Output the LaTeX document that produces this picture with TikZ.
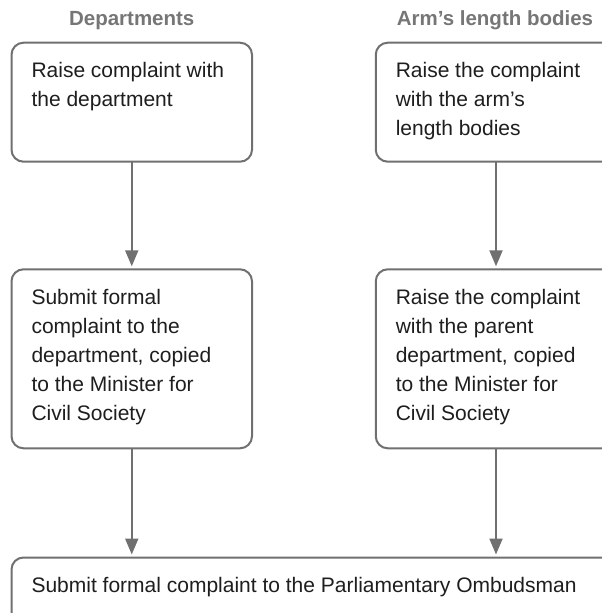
\documentclass[tikz,border=0pt]{standalone}
\usepackage{fontspec}
\setmainfont{Liberation Sans}
\usetikzlibrary{arrows.meta,positioning}
\definecolor{ink}{HTML}{1E1E1E}
\definecolor{rule}{HTML}{707070}
\definecolor{headgray}{HTML}{767676}
\newcommand{\boxtext}[3][200.5pt]{\parbox[c][#2][t]{#1}{\raggedright #3}}
\tikzset{
  every node/.style={font=\fontsize{21}{29}\selectfont, text=ink},
  head/.style={font=\fontsize{20.5}{24}\selectfont\bfseries, text=headgray},
  stepbox/.style={draw=rule, line width=2pt, rounded corners=12pt, outer sep=0pt,
                  inner xsep=20pt, inner ysep=20pt, minimum width=240.5pt, fill=white},
  arr/.style={-{Triangle[length=16pt, width=13pt]}, line width=2pt, draw=rule, shorten >=3pt},
}

\begin{document}
\begin{tikzpicture}[x=1pt, y=-1pt]
\useasboundingbox (0,0) rectangle (602,613);
\clip (0,0) rectangle (602,613);

\node[head, anchor=base] (dephead) at (131.75,25) {Departments};
\node[head, anchor=base] (albhead) at (495,25) {Arm’s length bodies};

\node[stepbox, anchor=north] (deprise) at (131.75,42.7) {\boxtext{79pt}{Raise complaint with\\the department}};
\node[stepbox, below=107.6pt of deprise] (depsubmit) {\boxtext{139pt}{Submit formal\\complaint to the\\department, copied\\to the Minister for\\Civil Society}};

\node[stepbox, anchor=north] (albrise) at (496,42.7) {\boxtext{79pt}{Raise the complaint\\with the arm’s\\length bodies}};
\node[stepbox, below=107.6pt of albrise] (albparent) {\boxtext{139pt}{Raise the complaint\\with the parent\\department, copied\\to the Minister for\\Civil Society}};

\node[stepbox, below=109.2pt of depsubmit.south west, anchor=north west] (ombudsman) {\boxtext[564pt]{30pt}{Submit formal complaint to the Parliamentary Ombudsman}};

\draw[arr] (deprise) -- (depsubmit);
\draw[arr] (albrise) -- (albparent);
\draw[arr] (depsubmit) -- (depsubmit |- ombudsman.north);
\draw[arr] (albparent) -- (albparent |- ombudsman.north);

\end{tikzpicture}
\end{document}
